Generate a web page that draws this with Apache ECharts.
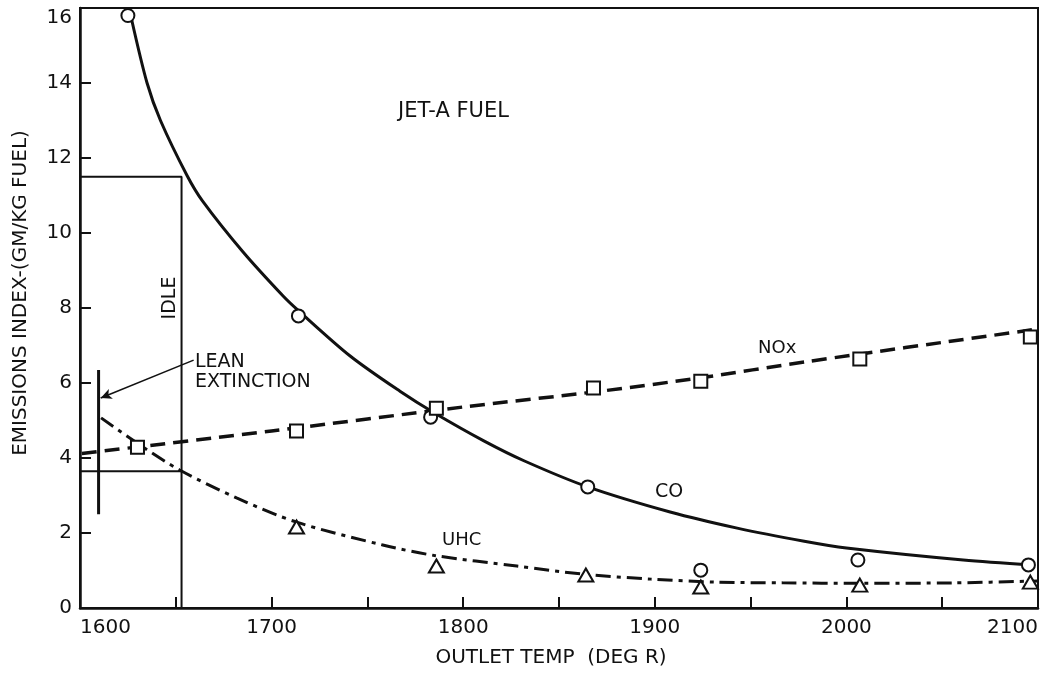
<!DOCTYPE html>
<html><head><meta charset="utf-8">
<script src="https://cdn.jsdelivr.net/npm/echarts@6/dist/echarts.min.js"></script>
<style>html,body{margin:0;padding:0;background:#fff}#c{width:1045px;height:674px}</style>
</head><body><div id="c"></div>
<script>
// ---- data (outlet temp deg R, emissions index g/kg fuel) ----
const coCurve = [[1627,15.68],[1635,14.0],[1642,13.0],[1656,11.52],[1664,10.85],[1685,9.5],[1706,8.32],[1714,7.93],[1741,6.72],[1767,5.78],[1785,5.2],[1811,4.45],[1832,3.92],[1865,3.23],[1908,2.56],[1943,2.13],[1978,1.78],[2000,1.6],[2061,1.28],[2097,1.15]];
const coPoints = [[1625,15.8],[1714,7.79],[1783,5.09],[1865,3.23],[1924,1.01],[2006,1.28],[2095,1.15]];
const noxCurve = [[1601,4.12],[1700,4.72],[1800,5.36],[1873,5.79],[1924,6.14],[1978,6.56],[2100,7.44]];
const noxPoints = [[1630,4.29],[1713,4.72],[1786,5.33],[1868,5.87],[1924,6.05],[2007,6.64],[2096,7.23]];
const uhcCurve = [[1611,5.07],[1633,4.29],[1652,3.68],[1682,2.93],[1713,2.29],[1758,1.68],[1785,1.4],[1828,1.12],[1863,0.9],[1898,0.77],[1932,0.69],[1967,0.67],[2007,0.66],[2056,0.67],[2100,0.72]];
const uhcPoints = [[1713,2.16],[1786,1.12],[1864,0.88],[1924,0.56],[2007,0.61],[2096,0.69]];
// annotation geometry in data units
const idleUpper = [[1600,11.5],[1653,11.5],[1653,0]];
const idleLower = [[1600,3.65],[1653,3.65]];
const leanLine = [[1609.7,6.35],[1609.7,2.5]];
const leanArrow = [[1659.3,6.61],[1610.8,5.6]];
const xTickLabels = [1600,1700,1800,1900,2000,2100];
const yTickLabels = [0,2,4,6,8,10,12,14,16];

const FONT = "'DejaVu Sans', sans-serif";
const INK = '#111';
const chart = echarts.init(document.getElementById('c'), null, {renderer:'canvas'});

const markerStyle = {color:'#fff', borderColor:INK, borderWidth:2, opacity:1};

chart.setOption({
  animation:false,
  backgroundColor:'#fff',
  grid:{left:80, right:7, top:8, bottom:66, show:true, borderColor:INK, borderWidth:2, backgroundColor:'transparent'},
  xAxis:{
    type:'value', min:1600, max:2100, interval:50,
    axisLine:{show:true, lineStyle:{color:INK, width:2.5}},
    axisTick:{show:true, inside:true, length:11, lineStyle:{color:INK, width:2}},
    splitLine:{show:false},
    axisLabel:{
      color:INK, fontSize:20, fontFamily:FONT, margin:10,
      showMinLabel:true, showMaxLabel:true, alignMinLabel:'left', alignMaxLabel:'right',
      formatter:function(v){ return xTickLabels.indexOf(v) >= 0 ? String(v) : ''; }
    }
  },
  yAxis:{
    type:'value', min:0, max:16, interval:2,
    axisLine:{show:true, lineStyle:{color:INK, width:2.5}},
    axisTick:{show:true, inside:true, length:11, lineStyle:{color:INK, width:2}},
    splitLine:{show:false},
    axisLabel:{
      color:INK, fontSize:20, fontFamily:FONT, margin:8,
      showMinLabel:true, showMaxLabel:true, verticalAlignMaxLabel:'top',
      formatter:function(v){ return yTickLabels.indexOf(v) >= 0 ? String(v) : ''; }
    }
  },
  series:[
    {type:'line', data:idleUpper, showSymbol:false, symbol:'none', lineStyle:{color:INK, width:2}, silent:true, z:1},
    {type:'line', data:idleLower, showSymbol:false, symbol:'none', lineStyle:{color:INK, width:2}, silent:true, z:1},
    {type:'line', data:leanLine, showSymbol:false, symbol:'none', lineStyle:{color:INK, width:3}, silent:true, z:1,
      markLine:{silent:true, symbol:['none','arrow'], symbolSize:[8,11], label:{show:false},
        lineStyle:{color:INK, width:1.6, type:'solid'},
        data:[[{coord:leanArrow[0]},{coord:leanArrow[1]}]]}},
    {name:'CO', type:'line', data:coCurve, showSymbol:false, symbol:'none', smooth:0.3,
      lineStyle:{color:INK, width:3}, z:2},
    {name:'NOx', type:'line', data:noxCurve, showSymbol:false, symbol:'none', smooth:0.3,
      lineStyle:{color:INK, width:3.5, type:[15,8]}, z:2},
    {name:'UHC', type:'line', data:uhcCurve, showSymbol:false, symbol:'none', smooth:0.3,
      lineStyle:{color:INK, width:3, type:[15,6,4,6]}, z:2},
    {type:'scatter', data:coPoints, symbol:'circle', symbolSize:13, itemStyle:markerStyle, z:5},
    {type:'scatter', data:noxPoints, symbol:'rect', symbolSize:13, itemStyle:markerStyle, z:5},
    {type:'scatter', data:uhcPoints, symbol:'triangle', symbolSize:[15,13], itemStyle:markerStyle, z:5}
  ],
  graphic:[
    {type:'text', x:398, y:112, style:{text:'JET-A FUEL', fill:INK, font:'21px '+FONT, textAlign:'left', textVerticalAlign:'middle'}},
    {type:'text', x:195, y:362, style:{text:'LEAN', fill:INK, font:'19px '+FONT, textAlign:'left', textVerticalAlign:'middle'}},
    {type:'text', x:195, y:382, style:{text:'EXTINCTION', fill:INK, font:'19px '+FONT, textAlign:'left', textVerticalAlign:'middle'}},
    {type:'text', x:170, y:298, rotation:Math.PI/2, style:{text:'IDLE', fill:INK, font:'19px '+FONT, textAlign:'center', textVerticalAlign:'middle'}},
    {type:'text', x:758, y:348, style:{text:'NOx', fill:INK, font:'18px '+FONT, textAlign:'left', textVerticalAlign:'middle'}},
    {type:'text', x:655, y:492, style:{text:'CO', fill:INK, font:'19px '+FONT, textAlign:'left', textVerticalAlign:'middle'}},
    {type:'text', x:442, y:540, style:{text:'UHC', fill:INK, font:'18px '+FONT, textAlign:'left', textVerticalAlign:'middle'}},
    {type:'text', x:551, y:658, style:{text:'OUTLET TEMP  (DEG R)', fill:INK, font:'20px '+FONT, textAlign:'center', textVerticalAlign:'middle'}},
    {type:'text', x:21, y:293, rotation:Math.PI/2, style:{text:'EMISSIONS INDEX-(GM/KG FUEL)', fill:INK, font:'20px '+FONT, textAlign:'center', textVerticalAlign:'middle'}}
  ]
});
</script>
</body></html>
